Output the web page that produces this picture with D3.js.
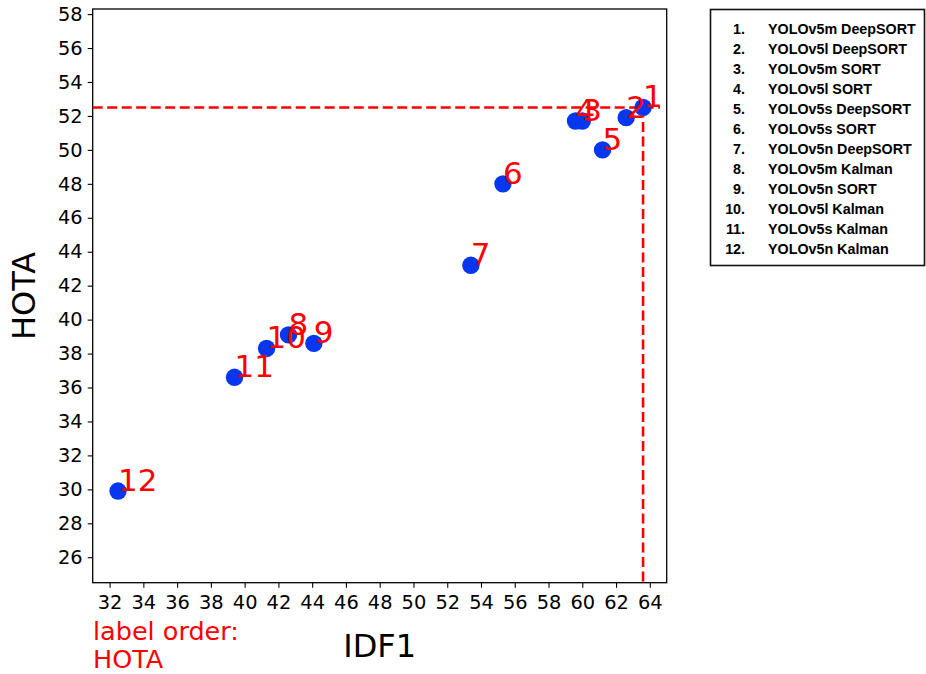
<!DOCTYPE html>
<html>
<head>
<meta charset="utf-8">
<script src="https://cdn.jsdelivr.net/npm/d3@7"></script>
<style>
  body { margin: 0; background: #fff; }
  svg { display: block; }
</style>
</head>
<body>
<div id="chart"></div>
<script>
// data
var labels = ["1", "2", "3", "4", "5", "6", "7", "8", "9", "10", "11", "12"];
var names = ["YOLOv5m DeepSORT", "YOLOv5l DeepSORT", "YOLOv5m SORT", "YOLOv5l SORT",
  "YOLOv5s DeepSORT", "YOLOv5s SORT", "YOLOv5n DeepSORT", "YOLOv5m Kalman",
  "YOLOv5n SORT", "YOLOv5l Kalman", "YOLOv5s Kalman", "YOLOv5n Kalman"];
var idf1 = [63.6, 62.6, 60.0, 59.6, 61.2, 55.3, 53.4, 42.6, 44.1, 41.3, 39.4, 32.5];
var hota = [52.5, 51.9, 51.7, 51.7, 50.0, 48.0, 43.2, 39.1, 38.6, 38.3, 36.6, 29.9];
var xTicks = [32, 34, 36, 38, 40, 42, 44, 46, 48, 50, 52, 54, 56, 58, 60, 62, 64];
var yTicks = [26, 28, 30, 32, 34, 36, 38, 40, 42, 44, 46, 48, 50, 52, 54, 56, 58];

// set the dimensions and margins
var W = 926, H = 674;
var margin = {top: 9, left: 92.7},
    width = 574,
    height = 573.7;

var svg = d3.select("#chart")
  .append("svg")
  .attr("width", W)
  .attr("height", H);

var g = svg.append("g")
  .attr("transform", "translate(" + margin.left + "," + margin.top + ")");

var x = d3.scaleLinear().domain([31, 65]).range([0, width]);
var y = d3.scaleLinear().domain([24.5, 58.3]).range([height, 0]);

var data = labels.map(function(l, i) {
  return {label: l, name: names[i], x: idf1[i], y: hota[i]};
});

// axes
var xAxis = g.append("g")
  .attr("transform", "translate(0," + height + ")")
  .call(d3.axisBottom(x).tickValues(xTicks).tickSize(5).tickPadding(8).tickFormat(d3.format("d")));
var yAxis = g.append("g")
  .call(d3.axisLeft(y).tickValues(yTicks).tickSize(5).tickPadding(5).tickFormat(d3.format("d")));

[xAxis, yAxis].forEach(function(a) {
  a.select(".domain").remove();
  a.selectAll("line").attr("stroke", "#000").attr("stroke-width", 1.1);
  a.selectAll("text")
    .attr("fill", "#000")
    .style("font-family", "DejaVu Sans")
    .style("font-size", "19.4px");
});

// frame
g.append("rect")
  .attr("width", width)
  .attr("height", height)
  .attr("fill", "none")
  .attr("stroke", "#000")
  .attr("stroke-width", 1.3);

// best point guide lines
var best = data[0];
g.append("line")
  .attr("x1", 0).attr("x2", x(64.6))
  .attr("y1", y(best.y)).attr("y2", y(best.y))
  .attr("stroke", "red").attr("stroke-width", 2.6)
  .attr("stroke-dasharray", "10,4.5");
g.append("line")
  .attr("x1", x(best.x)).attr("x2", x(best.x))
  .attr("y1", y(best.y)).attr("y2", height)
  .attr("stroke", "red").attr("stroke-width", 2.6)
  .attr("stroke-dasharray", "10,4.5");

// dots
g.append("g")
  .selectAll("circle")
  .data(data)
  .enter()
  .append("circle")
    .attr("cx", function(d) { return x(d.x); })
    .attr("cy", function(d) { return y(d.y); })
    .attr("r", 8.7)
    .style("fill", "#0536f0");

// point labels
g.append("g")
  .selectAll("text")
  .data(data)
  .enter()
  .append("text")
    .attr("x", function(d) { return x(d.x); })
    .attr("y", function(d) { return y(d.y); })
    .attr("fill", "red")
    .style("font-family", "DejaVu Sans")
    .style("font-size", "31px")
    .text(function(d) { return d.label; });

// axis titles
svg.append("text")
  .attr("x", margin.left + width / 2)
  .attr("y", 657)
  .attr("text-anchor", "middle")
  .style("font-family", "DejaVu Sans")
  .style("font-size", "32px")
  .text("IDF1");
svg.append("text")
  .attr("transform", "translate(35," + (margin.top + height / 2) + ") rotate(-90)")
  .attr("text-anchor", "middle")
  .style("font-family", "DejaVu Sans")
  .style("font-size", "32px")
  .text("HOTA");

// label order note
var note = svg.append("text")
  .attr("fill", "red")
  .style("font-family", "DejaVu Sans")
  .style("font-size", "25.5px");
note.append("tspan").attr("x", 93).attr("y", 640).text("label order:");
note.append("tspan").attr("x", 93).attr("y", 668).text("HOTA");

// legend box
var legend = svg.append("g");
legend.append("rect")
  .attr("x", 710.5).attr("y", 9.5)
  .attr("width", 214).attr("height", 256)
  .attr("fill", "#fff")
  .attr("stroke", "#111")
  .attr("stroke-width", 1.6);
var rows = legend.selectAll("g.row")
  .data(data)
  .enter()
  .append("g")
  .attr("transform", function(d, i) { return "translate(0," + (34 + i * 20) + ")"; });
rows.append("text")
  .attr("x", 745)
  .attr("text-anchor", "end")
  .style("font-family", "Liberation Sans")
  .style("font-weight", "bold")
  .style("font-size", "14.3px")
  .text(function(d) { return d.label + "."; });
rows.append("text")
  .attr("x", 768)
  .style("font-family", "Liberation Sans")
  .style("font-weight", "bold")
  .style("font-size", "14.3px")
  .text(function(d) { return d.name; });
</script>
</body>
</html>
